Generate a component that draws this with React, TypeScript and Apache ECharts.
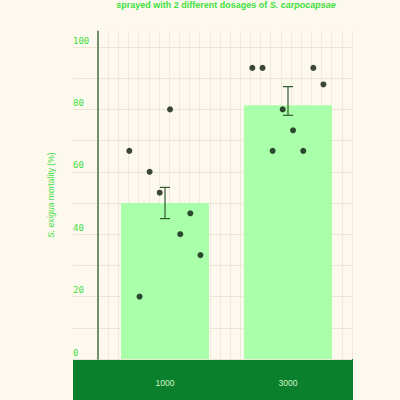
import React, { useEffect, useRef } from "react";
import * as echarts from "echarts";

const categories = ["1000", "3000"];
const barMeans = [50.0, 81.3];
const errLow = [45.0, 78.1];
const errHigh = [55.0, 87.3];
// individual observations per dosage (ordered as plotted left to right within each bar)
const pointsLow = [66.7, 20.0, 60.0, 53.3, 80.0, 40.0, 46.7, 33.3];
const pointsHigh = [93.3, 93.3, 66.7, 80.0, 73.3, 66.7, 93.3, 88.0];
const pointOffsets = [-0.29, -0.207, -0.125, -0.043, 0.041, 0.124, 0.206, 0.288];
const yTicks = [0, 20, 40, 60, 80, 100];

const GREEN = "#3de03d";

export default function App() {
  const ref = useRef<HTMLDivElement>(null);
  useEffect(() => {
    if (!ref.current) return;
    const chart = echarts.init(ref.current, undefined, { renderer: "svg" });
    const groups = [pointsLow, pointsHigh];
    const scatterData: number[][] = [];
    groups.forEach((g, ci) => {
      g.forEach((v, i) => scatterData.push([ci + 0.5 + pointOffsets[i], v]));
    });
    const option: any = {
      animation: false,
      backgroundColor: "#fdf9ee",
      graphic: [
        {
          type: "rect",
          z: 0,
          shape: { x: 73, y: 359, width: 280, height: 45 },
          style: { fill: "#0a7f2c" },
        },
        {
          type: "text",
          x: 226,
          y: 0.5,
          style: {
            text: "{b|sprayed with 2 different dosages of }{bi|S. carpocapsae}",
            align: "center",
            verticalAlign: "top",
            rich: {
              b: { fontFamily: "Liberation Sans", fontWeight: "bold", fontSize: 9, fill: GREEN },
              bi: { fontFamily: "Liberation Sans", fontWeight: "bold", fontStyle: "italic", fontSize: 9, fill: GREEN },
            },
          },
        },
      ],
      grid: [
        { left: 103.5, right: 50.5, top: 31.4, bottom: 41 },
        { left: 73, right: 48, top: 47, bottom: 41 },
        { left: 98, right: 48, top: 31.4, bottom: 41 },
      ],
      xAxis: [
        {
          gridIndex: 0,
          type: "category",
          data: categories,
          z: 10,
          axisLine: { show: false },
          axisTick: { show: false },
          axisLabel: { color: "#d2f5ca", fontSize: 8.5, fontFamily: "Liberation Sans", margin: 19 },
        },
        { gridIndex: 0, type: "value", min: 0, max: 2, show: false },
        { gridIndex: 1, type: "value", min: 0, max: 1, show: false },
        {
          gridIndex: 2,
          type: "value",
          min: 0,
          max: 25,
          interval: 1,
          axisLine: { show: false },
          axisTick: { show: false },
          axisLabel: { show: false },
          splitLine: { show: true, lineStyle: { color: "#efeadb", width: 1 } },
        },
      ],
      yAxis: [
        { gridIndex: 0, type: "value", min: 0, max: 105, show: false },
        {
          gridIndex: 1,
          type: "value",
          min: 0,
          max: 100,
          interval: 10,
          axisLine: { show: false },
          axisTick: { show: false },
          axisLabel: { show: false },
          splitLine: { show: true, lineStyle: { color: "#ebe7d5", width: 1 } },
        },
        {
          gridIndex: 2,
          type: "value",
          min: 0,
          max: 105,
          interval: 20,
          name: "{i|S. exigua} mortality (%)",
          nameLocation: "middle",
          nameGap: 43,
          nameTextStyle: {
            color: GREEN,
            fontSize: 8.5,
            fontFamily: "Liberation Sans",
            rich: { i: { fontStyle: "italic", color: GREEN, fontSize: 8.5, fontFamily: "Liberation Sans" } },
          },
          axisLine: { show: true, lineStyle: { color: "#748f70", width: 2 } },
          axisTick: { show: false },
          splitLine: { show: false },
          axisLabel: {
            showMaxLabel: false,
            color: GREEN,
            fontSize: 9,
            fontFamily: "DejaVu Sans Mono",
            align: "left",
            verticalAlign: "bottom",
            padding: [0, 0, 2, 0],
            margin: 25,
            formatter: (v: number) => (yTicks.includes(v) ? String(v) : ""),
          },
          z: 6,
        },
      ],
      series: [
        {
          type: "bar",
          xAxisIndex: 0,
          yAxisIndex: 0,
          data: barMeans,
          barWidth: "71.5%",
          itemStyle: { color: "#aaffaa" },
          z: 2,
        },
        {
          type: "custom",
          xAxisIndex: 0,
          yAxisIndex: 0,
          z: 4,
          data: categories.map((_, i) => [i, errLow[i], errHigh[i]]),
          renderItem: (params: any, api: any) => {
            const idx = api.value(0);
            const lo = api.coord([idx, api.value(1)]);
            const hi = api.coord([idx, api.value(2)]);
            const w = 5;
            const st = { stroke: "#2f5a2f", lineWidth: 1.2 };
            return {
              type: "group",
              children: [
                { type: "line", shape: { x1: lo[0], y1: lo[1], x2: hi[0], y2: hi[1] }, style: st },
                { type: "line", shape: { x1: lo[0] - w, y1: lo[1], x2: lo[0] + w, y2: lo[1] }, style: st },
                { type: "line", shape: { x1: hi[0] - w, y1: hi[1], x2: hi[0] + w, y2: hi[1] }, style: st },
              ],
            };
          },
        },
        {
          type: "scatter",
          xAxisIndex: 1,
          yAxisIndex: 0,
          data: scatterData,
          symbolSize: 6,
          itemStyle: { color: "#0c1a0c" },
          z: 5,
        },
      ],
    };
    chart.setOption(option);
    return () => chart.dispose();
  }, []);
  return (
    <div
      ref={ref}
      style={{ position: "fixed", left: 0, top: 0, width: 400, height: 400 }}
    />
  );
}
